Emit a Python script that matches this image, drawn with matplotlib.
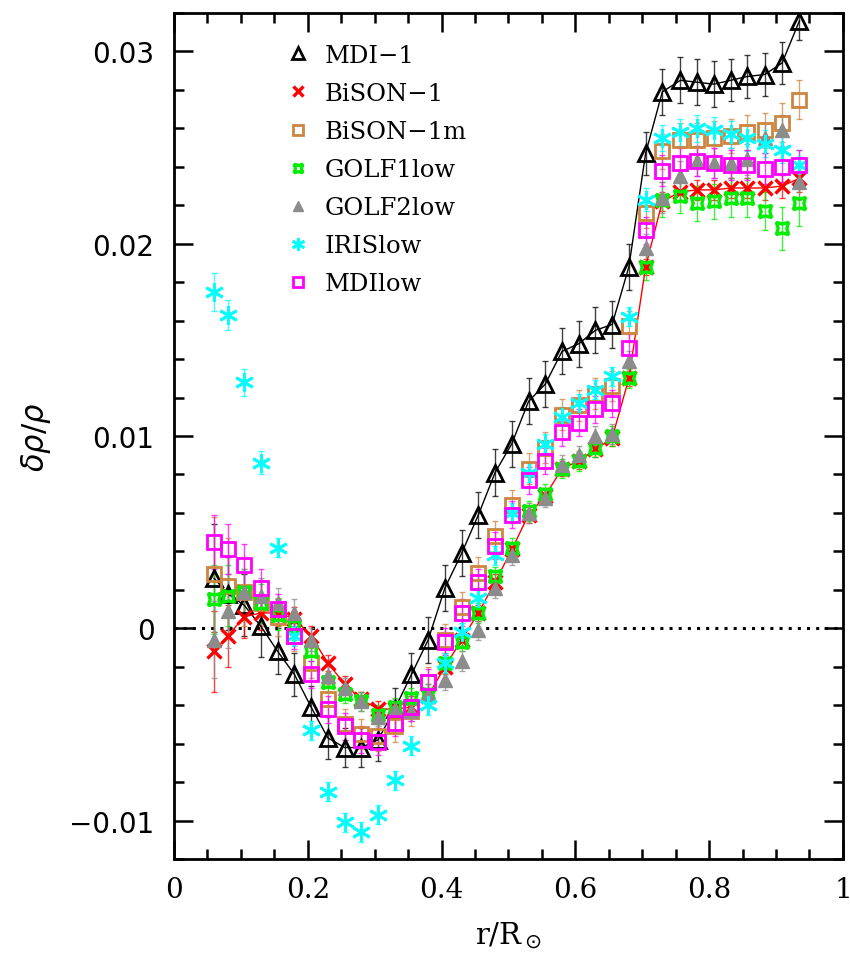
import matplotlib
matplotlib.use("Agg")
import matplotlib.pyplot as plt
from matplotlib.ticker import MultipleLocator

# ---------------- data ----------------
r = [0.060, 0.080, 0.105, 0.130, 0.155, 0.180, 0.205, 0.230, 0.255, 0.280,
     0.305, 0.330, 0.355, 0.380, 0.405, 0.430, 0.455, 0.480, 0.505, 0.530,
     0.555, 0.580, 0.605, 0.630, 0.655, 0.680, 0.705, 0.730, 0.757, 0.782,
     0.807, 0.832, 0.857, 0.883, 0.909, 0.935]

mdi1 = [0.0026, 0.0018, 0.0012, 0.0001, -0.0012, -0.0024, -0.0041, -0.0057, -0.0062, -0.0062,
        -0.0058, -0.0042, -0.0024, -0.0006, 0.0021, 0.0039, 0.0059, 0.0081, 0.0096, 0.0118,
        0.0127, 0.0144, 0.0148, 0.0155, 0.0158, 0.0188, 0.0247, 0.0279, 0.0285, 0.0284,
        0.0283, 0.0285, 0.0287, 0.0288, 0.0294, 0.0316]
mdi1_err = [0.0028, 0.0019, 0.0016, 0.0016, 0.0012, 0.0011, 0.0011, 0.0011, 0.0010, 0.0010,
            0.0011, 0.0011, 0.0011, 0.0012, 0.0012, 0.0012, 0.0012, 0.0012, 0.0012, 0.0012,
            0.0012, 0.0012, 0.0012, 0.0012, 0.0012, 0.0012, 0.0011, 0.0012, 0.0012, 0.0012,
            0.0012, 0.0011, 0.0011, 0.0011, 0.0011, 0.0010]

bison1 = [-0.0012, -0.0004, 0.0006, 0.0008, 0.0008, 0.0005, -0.0004, -0.0018, -0.0029, -0.0037,
          -0.0042, -0.0042, -0.0041, -0.0035, -0.0020, -0.0006, 0.0008, 0.0024, 0.0041, 0.0059,
          0.0069, 0.0083, 0.0087, 0.0093, 0.0099, 0.0130, 0.0188, 0.0222, 0.0227, 0.0228,
          0.0228, 0.0229, 0.0229, 0.0229, 0.0230, 0.0234]
bison1_err = [0.0021, 0.0016, 0.0011, 0.0009, 0.0007, 0.0006, 0.0005, 0.0004, 0.0004, 0.0004,
              0.0004, 0.0004, 0.0004, 0.0004, 0.0004, 0.0004, 0.0004, 0.0004, 0.0004, 0.0004,
              0.0004, 0.0004, 0.0004, 0.0004, 0.0004, 0.0004, 0.0004, 0.0005, 0.0005, 0.0005,
              0.0005, 0.0005, 0.0005, 0.0006, 0.0006, 0.0007]

bison1m = [0.0028, 0.0022, 0.0019, 0.0013, 0.0006, -0.0004, -0.0018, -0.0037, -0.0050, -0.0055,
           -0.0056, -0.0051, -0.0043, -0.0028, -0.0006, 0.0011, 0.0029, 0.0048, 0.0064, 0.0083,
           0.0094, 0.0111, 0.0116, 0.0122, 0.0126, 0.0157, 0.0216, 0.0248, 0.0254, 0.0254,
           0.0255, 0.0256, 0.0258, 0.0259, 0.0263, 0.0275]
bison1m_err = [0.0030, 0.0025, 0.0018, 0.0012, 0.0010, 0.0008, 0.0008, 0.0008, 0.0008, 0.0008,
               0.0008, 0.0008, 0.0008, 0.0008, 0.0008, 0.0008, 0.0008, 0.0008, 0.0008, 0.0008,
               0.0008, 0.0008, 0.0008, 0.0008, 0.0008, 0.0008, 0.0008, 0.0009, 0.0009, 0.0009,
               0.0009, 0.0009, 0.0009, 0.0009, 0.0010, 0.0010]

golf1 = [0.0015, 0.0017, 0.0019, 0.0013, 0.0007, 0.0001, -0.0012, -0.0028, -0.0034, -0.0038,
         -0.0045, -0.0041, -0.0036, -0.0034, -0.0018, -0.0007, 0.0008, 0.0027, 0.0042, 0.0061,
         0.0070, 0.0083, 0.0087, 0.0094, 0.0100, 0.0130, 0.0188, 0.0223, 0.0225, 0.0221,
         0.0222, 0.0224, 0.0224, 0.0217, 0.0208, 0.0221]
golf1_err = [0.0018, 0.0016, 0.0012, 0.0010, 0.0008, 0.0007, 0.0005, 0.0005, 0.0005, 0.0005,
             0.0005, 0.0005, 0.0005, 0.0005, 0.0005, 0.0005, 0.0005, 0.0005, 0.0005, 0.0005,
             0.0005, 0.0005, 0.0005, 0.0005, 0.0005, 0.0005, 0.0007, 0.0009, 0.0009, 0.0009,
             0.0009, 0.0010, 0.0010, 0.0010, 0.0011, 0.0012]

golf2 = [-0.0006, 0.0009, 0.0019, 0.0017, 0.0013, 0.0008, -0.0006, -0.0025, -0.0031, -0.0038,
         -0.0046, -0.0042, -0.0043, -0.0034, -0.0027, -0.0017, -0.0001, 0.0021, 0.0038, 0.0060,
         0.0068, 0.0085, 0.0090, 0.0100, 0.0101, 0.0139, 0.0198, 0.0224, 0.0235, 0.0243,
         0.0242, 0.0242, 0.0244, 0.0255, 0.0259, 0.0232]
golf2_err = [0.0020, 0.0019, 0.0012, 0.0009, 0.0008, 0.0007, 0.0006, 0.0005, 0.0005, 0.0005,
             0.0005, 0.0005, 0.0005, 0.0005, 0.0005, 0.0005, 0.0005, 0.0005, 0.0005, 0.0005,
             0.0005, 0.0005, 0.0005, 0.0005, 0.0005, 0.0005, 0.0007, 0.0008, 0.0008, 0.0008,
             0.0008, 0.0008, 0.0008, 0.0008, 0.0008, 0.0009]

iris = [0.0175, 0.0163, 0.0128, 0.0086, 0.0042, -0.0004, -0.0053, -0.0085, -0.0101, -0.0106,
        -0.0097, -0.0079, -0.0061, -0.0040, -0.0018, -0.0002, 0.0016, 0.0038, 0.0060, 0.0081,
        0.0096, 0.0110, 0.0117, 0.0124, 0.0131, 0.0162, 0.0223, 0.0255, 0.0258, 0.0260,
        0.0259, 0.0257, 0.0255, 0.0252, 0.0249, 0.0241]
iris_err = [0.0010, 0.0008, 0.0007, 0.0006, 0.0005, 0.0005, 0.0005, 0.0005, 0.0005, 0.0005,
            0.0005, 0.0005, 0.0005, 0.0005, 0.0005, 0.0005, 0.0005, 0.0005, 0.0005, 0.0005,
            0.0005, 0.0005, 0.0005, 0.0005, 0.0005, 0.0005, 0.0006, 0.0007, 0.0007, 0.0007,
            0.0007, 0.0007, 0.0007, 0.0007, 0.0007, 0.0008]

mdilow = [0.0045, 0.0041, 0.0033, 0.0021, 0.0010, -0.0004, -0.0024, -0.0042, -0.0051, -0.0058,
          -0.0059, -0.0049, -0.0041, -0.0028, -0.0007, 0.0008, 0.0024, 0.0043, 0.0059, 0.0077,
          0.0087, 0.0102, 0.0107, 0.0114, 0.0117, 0.0146, 0.0207, 0.0238, 0.0242, 0.0243,
          0.0242, 0.0241, 0.0241, 0.0239, 0.0240, 0.0241]
mdilow_err = [0.0014, 0.0013, 0.0011, 0.0010, 0.0008, 0.0007, 0.0007, 0.0007, 0.0007, 0.0007,
              0.0007, 0.0007, 0.0007, 0.0007, 0.0007, 0.0007, 0.0007, 0.0007, 0.0007, 0.0007,
              0.0007, 0.0007, 0.0007, 0.0007, 0.0007, 0.0007, 0.0007, 0.0008, 0.0008, 0.0008,
              0.0008, 0.0008, 0.0008, 0.0008, 0.0008, 0.0008]

labels = ["MDI\u22121", "BiSON\u22121", "BiSON\u22121m", "GOLF1low", "GOLF2low", "IRISlow", "MDIlow"]

# ---------------- figure ----------------
plt.rcParams['font.family'] = ['DejaVu Serif']
plt.rcParams['mathtext.fontset'] = 'dejavusans'

fig = plt.figure(figsize=(8.5, 9.54), dpi=100)
ax = fig.add_axes([0.2047, 0.0985, 0.7870, 0.8868])

ax.axhline(0, color='black', lw=2.2, ls=(0, (1, 2.0)), zorder=1)

star4 = (4, 1, 45)
series = [
    (mdi1, mdi1_err, dict(marker='^', mfc='none', mec='black', ms=12, mew=2.0), 'black', '-', labels[0]),
    (bison1, bison1_err, dict(marker='x', mfc='none', mec='#ff0000', ms=9.5, mew=2.4), '#ff0000', '-', labels[1]),
    (bison1m, bison1m_err, dict(marker='s', mfc='none', mec='#cd853f', ms=10, mew=2.0), '#cd853f', 'none', labels[2]),
    (golf1, golf1_err, dict(marker=star4, mfc='none', mec='#00ee00', ms=12.5, mew=2.4), '#00ee00', 'none', labels[3]),
    (golf2, golf2_err, dict(marker='^', mfc='#8c8c8c', mec='#8c8c8c', ms=10, mew=1.0), '#8c8c8c', 'none', labels[4]),
    (iris, iris_err, dict(marker=(6, 2, 0), mfc='none', mec='#00ffff', ms=13.5, mew=2.0), '#00ffff', 'none', labels[5]),
    (mdilow, mdilow_err, dict(marker='s', mfc='none', mec='#ff00ff', ms=10, mew=2.0), '#ff00ff', 'none', labels[6]),
]

for i, (y, e, mk, col, ls, lab) in enumerate(series):
    ax.errorbar(r, y, yerr=e, fmt='none', ecolor=col, elinewidth=1.0,
                capsize=2.5, capthick=1.0, alpha=0.75, zorder=2 + i)
    ax.plot(r, y, linestyle=ls, color=col, lw=1.0, zorder=10 + i, **mk)

leg_handles = []
for (y, e, mk, col, ls, lab) in series:
    mk2 = dict(mk)
    mk2['ms'] = mk['ms'] * 0.7
    lh, = ax.plot([], [], linestyle='none', **mk2)
    leg_handles.append(lh)

ax.legend(leg_handles, labels, loc='upper left', bbox_to_anchor=(0.153, 0.975),
          frameon=False, handlelength=1.0, handletextpad=0.6, labelspacing=0.62,
          borderaxespad=0.0, prop={'family': 'DejaVu Serif', 'size': 17.5})

ax.set_xlim(0, 1)
ax.set_ylim(-0.012, 0.032)

ax.xaxis.set_major_locator(MultipleLocator(0.2))
ax.xaxis.set_minor_locator(MultipleLocator(0.05))
ax.yaxis.set_major_locator(MultipleLocator(0.01))
ax.yaxis.set_minor_locator(MultipleLocator(0.002))

ax.tick_params(which='both', direction='in', top=True, right=True, width=1.8)
ax.tick_params(which='major', length=14)
ax.tick_params(which='minor', length=7)
ax.tick_params(axis='x', which='major', pad=12, labelsize=20)
ax.tick_params(axis='y', which='major', pad=14, labelsize=20)

ax.set_xticks([0, 0.2, 0.4, 0.6, 0.8, 1.0])
ax.set_xticklabels(['0', '0.2', '0.4', '0.6', '0.8', '1'], family='DejaVu Serif')
ax.set_yticks([-0.01, 0, 0.01, 0.02, 0.03])
ax.set_yticklabels(['\u22120.01', '0', '0.01', '0.02', '0.03'], family='DejaVu Sans')

for s in ax.spines.values():
    s.set_linewidth(2.0)

ax.set_xlabel(r'r/R$_\odot$', fontsize=21, family='DejaVu Serif', labelpad=12)
ax.set_ylabel(r'$\delta\rho/\rho$', fontsize=22, labelpad=12)

fig.savefig('out.png', dpi=100)
